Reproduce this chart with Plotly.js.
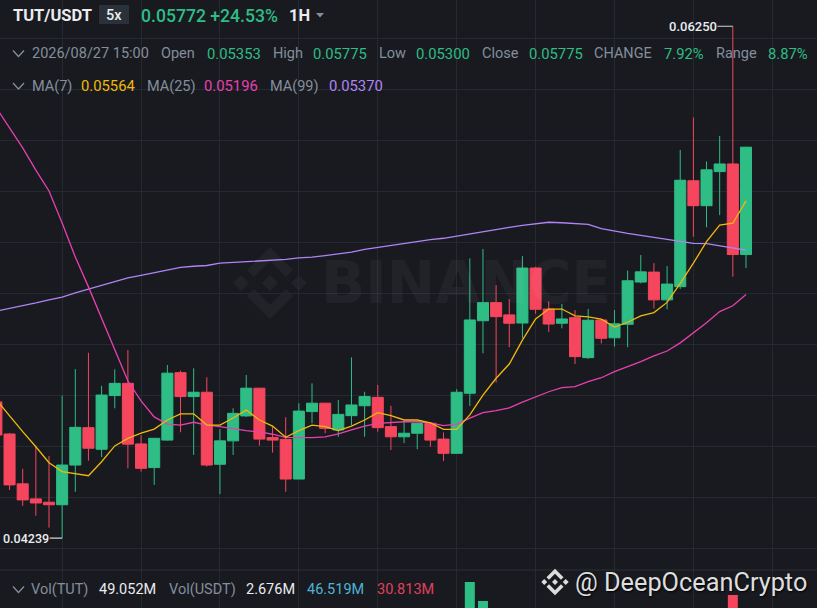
<!DOCTYPE html>
<html><head><meta charset="utf-8">
<script src="https://cdn.plot.ly/plotly-3.0.1.min.js"></script>
<style>html,body{margin:0;padding:0;background:#181a20;overflow:hidden}#chart{width:817px;height:608px}</style>
</head><body><div id="chart"></div>
<script>
// ---- data (1H candles, TUT/USDT) ----
const opens  = [0.04774,0.04648,0.04452,0.04393,0.04380,0.04370,0.04526,0.04673,0.04588,0.04799,
                0.04847,0.04609,0.04516,0.04624,0.04889,0.04795,0.04812,0.04529,0.04621,0.04719,
                0.04828,0.04634,0.04627,0.04471,0.04736,0.04769,0.04664,0.04720,0.04759,0.04792,
                0.04677,0.04637,0.04651,0.04690,0.04628,0.04572,0.04808,0.05093,0.05164,0.05116,
                0.05084,0.05300,0.05139,0.05083,0.05105,0.04948,0.05096,0.05026,0.05079,0.05245,
                0.05284,0.05175,0.05227,0.05643,0.05545,0.05679,0.05709,0.05353];
const highs  = [0.04801,0.04652,0.04511,0.04602,0.04562,0.04799,0.04903,0.04967,0.04837,0.04902,
                0.04978,0.04643,0.04632,0.04919,0.04897,0.04906,0.04871,0.04667,0.04749,0.04880,
                0.04829,0.04679,0.04714,0.04769,0.04847,0.04771,0.04782,0.04949,0.04814,0.04841,
                0.04759,0.04696,0.04691,0.04691,0.04654,0.04824,0.05338,0.05375,0.05233,0.05178,
                0.05347,0.05305,0.05169,0.05159,0.05135,0.05139,0.05096,0.05135,0.05290,0.05351,
                0.05319,0.05308,0.05764,0.05892,0.05719,0.05819,0.06250,0.05775];
const lows   = [0.04624,0.04428,0.04366,0.04327,0.04280,0.04239,0.04421,0.04543,0.04557,0.04749,
                0.04513,0.04500,0.04448,0.04622,0.04655,0.04566,0.04520,0.04412,0.04566,0.04715,
                0.04602,0.04575,0.04421,0.04471,0.04690,0.04651,0.04637,0.04683,0.04637,0.04657,
                0.04585,0.04612,0.04588,0.04598,0.04542,0.04572,0.04758,0.04965,0.04850,0.04989,
                0.05024,0.05120,0.05049,0.05063,0.04923,0.04943,0.05004,0.04991,0.04989,0.05240,
                0.05141,0.05138,0.05218,0.05423,0.05460,0.05508,0.05266,0.05300];
const closes = [0.04644,0.04448,0.04389,0.04377,0.04370,0.04526,0.04674,0.04592,0.04801,0.04847,
                0.04608,0.04513,0.04631,0.04887,0.04795,0.04812,0.04526,0.04621,0.04729,0.04828,
                0.04628,0.04624,0.04471,0.04738,0.04769,0.04670,0.04725,0.04762,0.04795,0.04673,
                0.04637,0.04651,0.04690,0.04624,0.04572,0.04812,0.05096,0.05164,0.05109,0.05083,
                0.05300,0.05138,0.05080,0.05100,0.04952,0.05095,0.05024,0.05081,0.05250,0.05285,
                0.05175,0.05237,0.05645,0.05545,0.05686,0.05709,0.05353,0.05775];
const ma7    = [0.04782,0.04719,0.04657,0.04598,0.04535,0.04500,0.04491,0.04484,0.04539,0.04601,
                0.04631,0.04651,0.04667,0.04703,0.04727,0.04727,0.04683,0.04683,0.04711,0.04742,
                0.04703,0.04679,0.04635,0.04661,0.04683,0.04677,0.04661,0.04679,0.04703,0.04732,
                0.04720,0.04703,0.04703,0.04692,0.04666,0.04666,0.04723,0.04801,0.04867,0.04923,
                0.05017,0.05100,0.05139,0.05139,0.05112,0.05108,0.05099,0.05068,0.05087,0.05112,
                0.05125,0.05165,0.05240,0.05319,0.05404,0.05469,0.05476,0.05564];
const ma25   = [0.05929,0.05850,0.05772,0.05685,0.05603,0.05477,0.05343,0.05226,0.05104,0.04978,
                0.04856,0.04778,0.04715,0.04687,0.04683,0.04694,0.04683,0.04677,0.04668,0.04661,
                0.04656,0.04647,0.04635,0.04634,0.04634,0.04637,0.04648,0.04664,0.04679,0.04690,
                0.04694,0.04696,0.04696,0.04692,0.04681,0.04687,0.04710,0.04732,0.04740,0.04751,
                0.04773,0.04795,0.04814,0.04830,0.04834,0.04854,0.04869,0.04893,0.04912,0.04932,
                0.04955,0.04974,0.05006,0.05044,0.05085,0.05129,0.05152,0.05196];
const ma99   = [0.05131,0.05141,0.05152,0.05163,0.05175,0.05186,0.05202,0.05216,0.05230,0.05245,
                0.05261,0.05271,0.05281,0.05292,0.05303,0.05307,0.05310,0.05319,0.05322,0.05324,
                0.05328,0.05332,0.05334,0.05340,0.05343,0.05349,0.05355,0.05363,0.05373,0.05381,
                0.05389,0.05397,0.05404,0.05412,0.05417,0.05426,0.05436,0.05444,0.05452,0.05460,
                0.05468,0.05475,0.05480,0.05478,0.05475,0.05472,0.05455,0.05445,0.05436,0.05428,
                0.05420,0.05412,0.05404,0.05397,0.05396,0.05387,0.05377,0.05370];
const volumesM = [18,22,15,12,14,28,25,20,22,12, 24,14,11,20,13,9,16,10,8,9,
                  11,6,14,13,7,8,7,12,6,8, 7,5,6,6,9,30,98,79,42,22,
                  46,28,15,10,18,16,9,8,10,8, 12,9,36.5,45,28,25.5,85,49.052];

const pairName = 'TUT/USDT', leverage = '5x', lastPrice = '0.05772', change24h = '+24.53%', interval = '1H';
const candleTime = '2026/08/27 15:00', changePct = '7.92%', rangePct = '8.87%';
const volQuote = '2.676M', volMa5 = '46.519M', volMa10 = '30.813M';

// ---- helpers ----
const W = 817, H = 608;
const px = x => x / W, py = y => 1 - y / H;
const FONT = 'Roboto, "Noto Sans", sans-serif';
const GREY = '#848e9c', WHITE = '#eaecef', GREEN = '#2ebd85', RED = '#f6465d';
const YEL = '#f0b90b', PINK = '#e840b0', PURP = '#b084f5';
const idx = opens.map((_, i) => i);
const f5 = v => v.toFixed(5);

function lab(text, x, y, color, size, weight, extra) {
  return Object.assign({xref:'paper', yref:'paper', x:px(x), y:py(y), xanchor:'left', yanchor:'middle',
    text:text, showarrow:false, borderpad:0,
    font:{family:FONT, size:size, color:color, weight:weight || 400}}, extra || {});
}
function pathPx(pts) {
  return pts.map((p, i) => (i ? 'L' : 'M') + px(p[0]).toFixed(5) + ',' + py(p[1]).toFixed(5)).join(' ');
}
function poly(pts, fill, extra) {
  return Object.assign({type:'path', xref:'paper', yref:'paper', path:pathPx(pts) + ' Z',
    fillcolor:fill, line:{width:0}, layer:'below'}, extra || {});
}
function chevron(x, y) {
  return {type:'path', xref:'paper', yref:'paper', path:pathPx([[x, y], [x + 5.5, y + 6], [x + 11, y]]),
    line:{color:GREY, width:1.3}};
}
function logo(cx, cy, s, fill, layer) {
  const shapesBase = [
    [[0,-8],[8,0],[0,8],[-8,0]],
    [[-29,-8],[-21,0],[-29,8],[-37,0]],
    [[29,-8],[37,0],[29,8],[21,0]],
    [[0,-36],[23,-13],[16,-6],[0,-22],[-16,-6],[-23,-13]],
    [[0,36],[23,13],[16,6],[0,22],[-16,6],[-23,13]]
  ];
  return shapesBase.map(pp => poly(pp.map(p => [cx + p[0] * s, cy + p[1] * s]), fill, {layer:layer}));
}

// ---- traces ----
const candles = {
  type:'candlestick', x:idx, open:opens, high:highs, low:lows, close:closes,
  increasing:{line:{color:GREEN, width:1}, fillcolor:GREEN},
  decreasing:{line:{color:RED, width:1}, fillcolor:RED},
  whiskerwidth:0, hoverinfo:'skip', xaxis:'x', yaxis:'y'
};
const maLine = (y, c) => ({type:'scatter', mode:'lines', x:idx, y:y, line:{color:c, width:1.3}, hoverinfo:'skip'});
const vol = {
  type:'bar', x:idx, y:volumesM, yaxis:'y2', width:0.76, hoverinfo:'skip',
  marker:{color:idx.map(i => closes[i] >= opens[i] ? GREEN : RED), line:{width:0}}
};

// ---- annotations ----
const last = opens.length - 1;
let hiI = 0, loI = 0;
highs.forEach((v, i) => { if (v > highs[hiI]) hiI = i; });
lows.forEach((v, i) => { if (v < lows[loI]) loI = i; });

const ann = [
  lab(pairName, 12, 16, WHITE, 16.5, 700),
  lab(leverage, 114, 15, WHITE, 14.5, 500, {xanchor:'center'}),
  lab(lastPrice + ' ' + change24h, 140, 16, GREEN, 17.6, 500),
  lab(interval, 288, 16, WHITE, 16.5, 700),

  lab(candleTime, 31, 53.5, GREY, 14.5),
  lab('Open', 160, 53.5, GREY, 14.5),
  lab(f5(opens[last]), 206, 53.5, GREEN, 14.8),
  lab('High', 272, 53.5, GREY, 14.5),
  lab(f5(highs[last]), 312, 53.5, GREEN, 14.8),
  lab('Low', 378, 53.5, GREY, 14.5),
  lab(f5(lows[last]), 415, 53.5, GREEN, 14.8),
  lab('Close', 481, 53.5, GREY, 14.5),
  lab(f5(closes[last]), 528, 53.5, GREEN, 14.8),
  lab('CHANGE', 593, 53.5, GREY, 14.5),
  lab(changePct, 663, 53.5, GREEN, 14.8),
  lab('Range', 715, 53.5, GREY, 14.5),
  lab(rangePct, 767, 53.5, GREEN, 14.8),

  lab('MA(7)', 31, 86, GREY, 14.5),
  lab(f5(ma7[last]), 80, 86, YEL, 14.8),
  lab('MA(25)', 146, 86, GREY, 14.5),
  lab(f5(ma25[last]), 203, 86, PINK, 14.8),
  lab('MA(99)', 269, 86, GREY, 14.5),
  lab(f5(ma99[last]), 328, 86, PURP, 14.8),

  lab('Vol(TUT)', 30, 589, GREY, 14.5),
  lab(volumesM[last].toFixed(3) + 'M', 98, 589, WHITE, 14.5),
  lab('Vol(USDT)', 168, 589, GREY, 14.5),
  lab(volQuote, 245, 589, WHITE, 14.5),
  lab(volMa5, 306, 589, '#4fb3d6', 14.5),
  lab(volMa10, 376, 589, '#e0405c', 14.5),

  lab('BINANCE', 466, 283, 'rgba(255,255,255,0.045)', 58, 700,
      {xanchor:'center', font:{family:'"DejaVu Sans", sans-serif', size:58, color:'rgba(255,255,255,0.045)', weight:700}}),
  lab('@ DeepOceanCrypto', 574, 582, '#dedede', 25.3, 400,
      {font:{family:FONT, size:25.3, color:'#dedede', shadow:'1px 1px 2px rgba(0,0,0,0.9)'}}),

  {xref:'x', yref:'y', x:hiI, y:highs[hiI], text:f5(highs[hiI]), showarrow:true, arrowhead:0,
   arrowwidth:1.2, arrowcolor:'#d0d3d8', ax:-40, ay:0, standoff:0, borderpad:0,
   font:{family:FONT, size:13, color:WHITE, weight:500}},
  {xref:'x', yref:'y', x:loI, y:lows[loI], text:f5(lows[loI]), showarrow:true, arrowhead:0,
   arrowwidth:1.2, arrowcolor:'#d0d3d8', ax:-36, ay:0, standoff:0, borderpad:0,
   font:{family:FONT, size:12.5, color:WHITE, weight:500}}
];

// ---- shapes ----
const shapes = [
  {type:'line', xref:'paper', yref:'paper', x0:0, x1:1, y0:py(570), y1:py(570), line:{color:'#2b2f36', width:1}},
  {type:'rect', xref:'paper', yref:'paper', x0:px(99), x1:px(129), y0:py(24), y1:py(5),
   fillcolor:'#2b3139', line:{width:0}, layer:'below'},
  poly([[316,13],[324,13],[320,17.5]], GREY, {layer:'above'}),
  chevron(13, 50.5), chevron(13, 83), chevron(13, 586.5)
].concat(logo(270, 283, 1, 'rgba(255,255,255,0.045)', 'below'))
 .concat(logo(555, 582, 0.37, '#dcdcdc', 'above'));

const layout = {
  width:W, height:H, margin:{l:0, r:0, t:0, b:0},
  paper_bgcolor:'#181a20', plot_bgcolor:'#181a20',
  showlegend:false, hovermode:false, dragmode:false,
  boxgap:0.16, boxgroupgap:0,
  xaxis:{range:[0.274, 62.4], showticklabels:false, showgrid:true, gridcolor:'#252930', gridwidth:1,
         tick0:5, dtick:6, zeroline:false, showline:false, ticks:'', rangeslider:{visible:false}, fixedrange:true},
  yaxis:{domain:[38/608, 1], range:[0.041136, 0.063532], showticklabels:false, showgrid:true,
         gridcolor:'#252930', tick0:0, dtick:0.002, zeroline:false, showline:false, ticks:'', fixedrange:true},
  yaxis2:{domain:[0, 38/608], range:[72, 110], showticklabels:false, showgrid:false, zeroline:false,
          showline:false, ticks:'', fixedrange:true},
  annotations:ann, shapes:shapes
};

Plotly.newPlot('chart', [vol, maLine(ma99, PURP), maLine(ma25, PINK), maLine(ma7, YEL), candles], layout,
  {staticPlot:true, displayModeBar:false});
</script></body></html>
